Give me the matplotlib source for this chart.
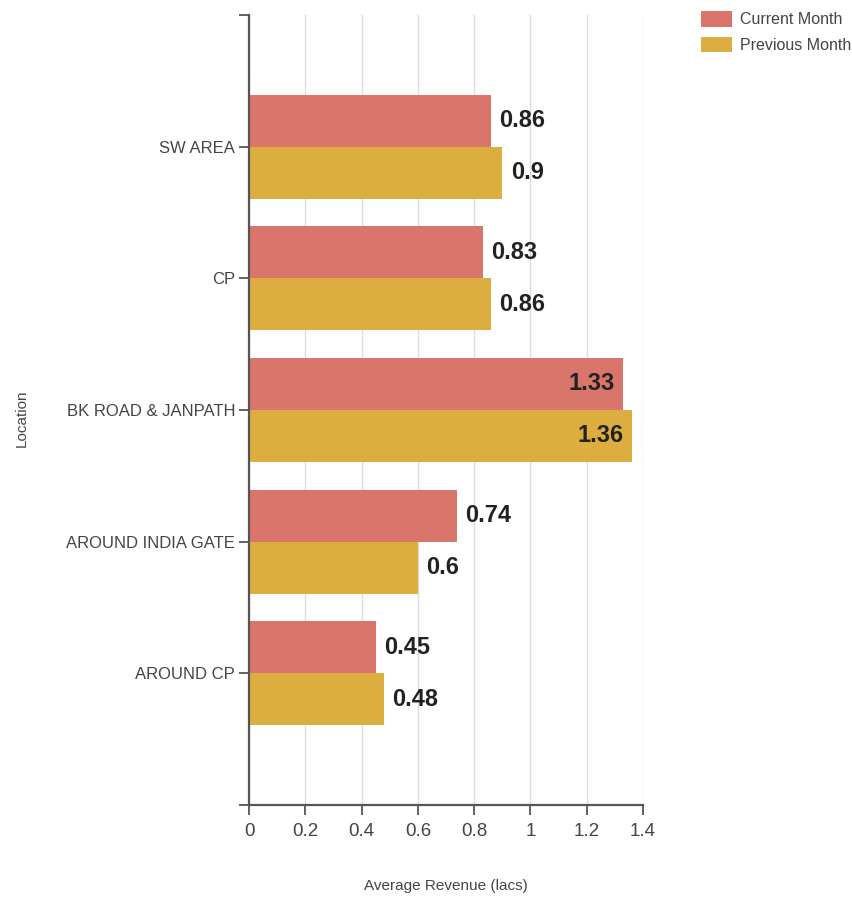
import matplotlib.pyplot as plt
import numpy as np

locations = ["AROUND CP", "AROUND INDIA GATE", "BK ROAD & JANPATH", "CP", "SW AREA"]
current_month = [0.45, 0.74, 1.33, 0.83, 0.86]
previous_month = [0.48, 0.6, 1.36, 0.86, 0.9]
x_ticks = [0, 0.2, 0.4, 0.6, 0.8, 1, 1.2, 1.4]
x_tick_labels = ["0", "0.2", "0.4", "0.6", "0.8", "1", "1.2", "1.4"]

narrow = ["Liberation Sans Narrow", "Liberation Sans", "DejaVu Sans"]
plt.rcParams['font.family'] = narrow

col_cur = "#D9756A"
col_prev = "#DCAE40"
axis_col = "#555555"

fig = plt.figure(figsize=(8.52, 8.97), dpi=100)
ax = fig.add_axes([0.2923, 0.1026, 0.4624, 0.8807])

pos = np.arange(1, len(locations) + 1)
h = 0.395
bars_cur = ax.barh(pos + h / 2, current_month, height=h, color=col_cur, zorder=2)
bars_prev = ax.barh(pos - h / 2, previous_month, height=h, color=col_prev, zorder=2)

# value labels: outside the bar, or inside when the bar is long
for bars, vals in [(bars_cur, current_month), (bars_prev, previous_month)]:
    for b, v in zip(bars, vals):
        y = b.get_y() + b.get_height() / 2
        txt = f"{v:g}"
        if v > 1.2:
            ax.annotate(txt, (v, y), xytext=(-6, 0), textcoords="offset points",
                        ha="right", va="center", fontsize=17, fontweight="bold",
                        color="#222222")
        else:
            ax.annotate(txt, (v, y), xytext=(6, 0), textcoords="offset points",
                        ha="left", va="center", fontsize=17, fontweight="bold",
                        color="#222222")

ax.set_xlim(0, 1.4)
ax.set_ylim(0, 6)
ax.set_xticks(x_ticks)
ax.set_xticklabels(x_tick_labels)
ax.set_yticks([0] + list(pos) + [6])
ax.set_yticklabels([""] + locations + [""])

ax.grid(axis="x", color="#dddddd", linewidth=1, zorder=0)
for s in ["top", "right"]:
    ax.spines[s].set_visible(False)
for s in ["left", "bottom"]:
    ax.spines[s].set_color(axis_col)
    ax.spines[s].set_linewidth(1.6)

ax.tick_params(axis="x", length=7, width=1.3, color=axis_col, labelsize=13.5,
               labelcolor="#444444", pad=6)
ax.tick_params(axis="y", length=7, width=1.3, color=axis_col, labelsize=12,
               labelcolor="#444444", pad=3)

ax.set_xlabel("Average Revenue (lacs)", fontsize=11, color="#444444", labelpad=28)
ax.set_ylabel("Location", fontsize=11, color="#444444")
ax.yaxis.set_label_coords(-0.56, 0.49)

fig.legend([bars_cur, bars_prev], ["Current Month", "Previous Month"],
           loc="upper right", bbox_to_anchor=(1.012, 1.0), frameon=False,
           fontsize=11.5, handlelength=1.9, handleheight=1.1, labelspacing=0.6,
           handletextpad=0.5, borderaxespad=0.3, labelcolor="#444444")

fig.savefig("out.png", dpi=100, facecolor="white")
